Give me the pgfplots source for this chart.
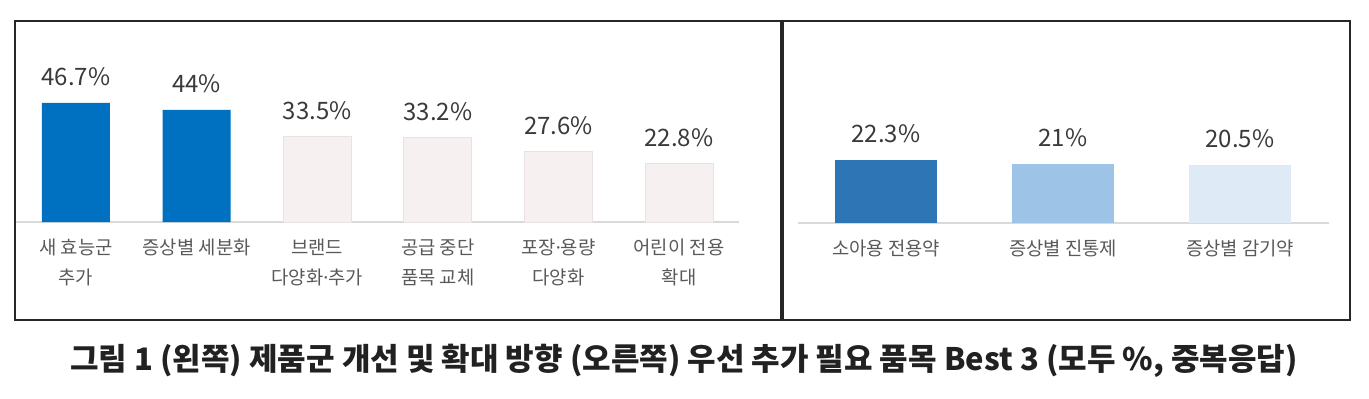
\documentclass[border=0pt]{standalone}
\usepackage{fontspec}
\usepackage{pgfplots}
\pgfplotsset{compat=1.18}
\setmainfont{Noto Sans CJK KR}
\newfontfamily\ns{Noto Sans}
\newcommand{\md}{{\ns ·}}
\definecolor{blueA}{HTML}{0070C0}
\definecolor{pale}{HTML}{F6F0F0}
\definecolor{paleE}{HTML}{EAE2E2}
\definecolor{rb1}{HTML}{2E75B6}
\definecolor{rb2}{HTML}{9DC3E6}
\definecolor{rb3}{HTML}{DEEBF7}
\definecolor{valtxt}{HTML}{3A3A3A}
\definecolor{cattxt}{HTML}{595959}
\definecolor{basel}{HTML}{D9D9D9}
\begin{document}
\begin{tikzpicture}
\useasboundingbox (0,0) rectangle (684.5pt,199pt);
\pgfplotsset{
  myaxis/.style={
    scale only axis,
    ymin=0,
    axis x line*=bottom,
    axis y line=none,
    x axis line style={basel, line width=0.8pt, -},
    xtick=data,
    xtick style={draw=none},
    ytick=\empty,
    tick label style={font=\fontsize{9.4pt}{15pt}\selectfont, text=cattxt, align=center},
    xticklabel style={anchor=north, yshift=-0.5pt},
    ybar, bar shift=0pt,
    nodes near coords={\pgfmathprintnumber{\pgfplotspointmeta}\%},
    every node near coord/.append style={font=\fontsize{12pt}{14pt}\selectfont, text=valtxt, anchor=base, inner sep=0pt, yshift=8.5pt},
    /pgf/number format/assume math mode=true,
    clip=false,
  }
}
\begin{axis}[myaxis,
  at={(7.85pt,88pt)}, anchor=south west,
  width=361.8pt, height=76.5pt,
  xmin=-0.5, xmax=5.5, ymax=60,
  bar width=34pt,
  xtick={0,1,2,3,4,5},
  xticklabels={{새 효능군\\추가},{증상별 세분화},{브랜드\\다양화\md 추가},{공급 중단\\품목 교체},{포장\md 용량\\다양화},{어린이 전용\\확대}},
]
\addplot[fill=blueA, draw=none] coordinates {(0,46.7) (1,44)};
\addplot[fill=pale, draw=paleE, line width=0.4pt] coordinates {(2,33.5) (3,33.2) (4,27.6) (5,22.8)};
\end{axis}
\begin{axis}[myaxis,
  at={(398.75pt,87.5pt)}, anchor=south west,
  width=265.5pt, height=70.75pt,
  xmin=-0.5, xmax=2.5, ymax=50,
  bar width=51pt,
  xtick={0,1,2},
  xticklabels={{소아용 전용약},{증상별 진통제},{증상별 감기약}},
]
\addplot[fill=rb1, draw=none] coordinates {(0,22.3)};
\addplot[fill=rb2, draw=none] coordinates {(1,21)};
\addplot[fill=rb3, draw=none] coordinates {(2,20.5)};
\end{axis}
\draw[line width=0.9pt, black!85] (7.5pt,39pt) rectangle (390.5pt,188.5pt);
\draw[line width=0.9pt, black!85] (391.5pt,39pt) rectangle (675pt,188.5pt);
\node[font=\fontsize{15.5pt}{18pt}\selectfont\bfseries, text=black!87, anchor=base] at (342pt,14pt) {그림 1 (왼쪽) 제품군 개선 및 확대 방향 (오른쪽) 우선 추가 필요 품목 Best 3 (모두 \%, 중복응답)};
\end{tikzpicture}
\end{document}
